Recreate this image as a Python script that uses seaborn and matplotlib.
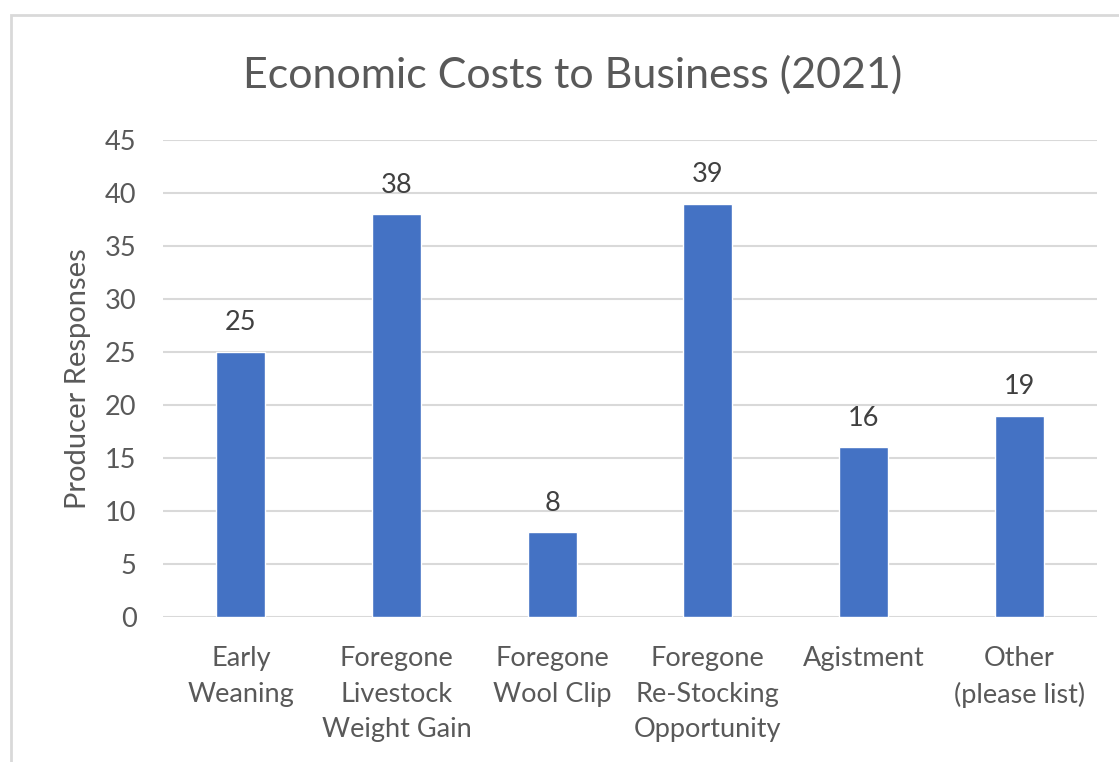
import matplotlib
matplotlib.use("Agg")
import matplotlib.pyplot as plt
import seaborn as sns
import pandas as pd
from matplotlib.patches import Rectangle

categories = ["Early\nWeaning", "Foregone\nLivestock\nWeight Gain", "Foregone\nWool Clip",
              "Foregone\nRe-Stocking\nOpportunity", "Agistment", "Other\n(please list)"]
values = [25, 38, 8, 39, 16, 19]
y_ticks = [0, 5, 10, 15, 20, 25, 30, 35, 40, 45]

sns.set_theme(style="white")
plt.rcParams['font.family'] = ['Lato', 'DejaVu Sans']

df = pd.DataFrame({"cat": categories, "val": values})

fig = plt.figure(figsize=(11.19, 7.62), dpi=100)
ax = fig.add_axes([163/1119, 145/762, (1097-163)/1119, (617-140)/762])

sns.barplot(data=df, x="cat", y="val", color="#4472C4", width=0.315, saturation=1, ax=ax, zorder=3)

ax.set_ylim(0, 45)
ax.set_yticks(y_ticks)
ax.set_xlim(-0.5, len(categories) - 0.5)
ax.yaxis.grid(True, color="#d9d9d9", linewidth=1.5, zorder=0)
ax.set_axisbelow(True)
for s in ax.spines.values():
    s.set_visible(False)
ax.tick_params(axis="both", length=0, labelsize=19.5, colors="#595959")
ax.tick_params(axis="x", pad=21)
ax.tick_params(axis="y", pad=19)
for lbl in ax.get_xticklabels():
    lbl.set_linespacing(1.52)
ax.set_xlabel("")
ax.set_ylabel("Producer Responses", fontsize=21, color="#595959", labelpad=10)

for c in ax.containers:
    ax.bar_label(c, labels=[str(v) for v in values], padding=12, fontsize=19.5, color="#404040")

fig.text(573/1119, 1 - 75/762, "Economic Costs to Business (2021)", ha="center", va="center",
         fontsize=31, color="#595959")

fig.patches.append(Rectangle((11/1119, -0.1), 1.2, 1 - 15/762 + 0.1, transform=fig.transFigure,
                             fill=False, edgecolor="#d9d9d9", linewidth=2))

fig.savefig("out.png", dpi=100)
